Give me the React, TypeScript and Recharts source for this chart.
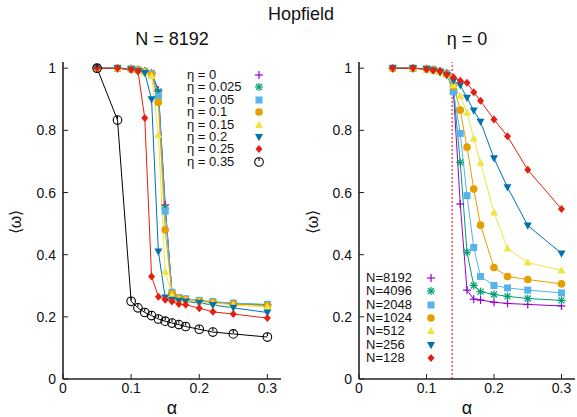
import React from "react";
import { LineChart, Line, XAxis, YAxis, ReferenceLine } from "recharts";

const alphas = [0.05, 0.08, 0.1, 0.11, 0.12, 0.13, 0.14, 0.15, 0.16, 0.17, 0.18, 0.2, 0.22, 0.25, 0.3];
const xTicks = [0, 0.1, 0.2, 0.3];
const yTicks = [0, 0.2, 0.4, 0.6, 0.8, 1];

const etaLabels = ["η = 0", "η = 0.025", "η = 0.05", "η = 0.1", "η = 0.15", "η = 0.2", "η = 0.25", "η = 0.35"];
const eta0 = [1, 1, 0.998, 0.995, 0.99, 0.985, 0.93, 0.56, 0.275, 0.26, 0.256, 0.251, 0.247, 0.242, 0.238];
const eta025 = [1, 1, 0.998, 0.995, 0.99, 0.984, 0.925, 0.55, 0.277, 0.26, 0.257, 0.252, 0.248, 0.243, 0.239];
const eta05 = [1, 1, 0.998, 0.995, 0.99, 0.983, 0.91, 0.54, 0.279, 0.262, 0.258, 0.253, 0.249, 0.244, 0.24];
const eta10 = [1, 1, 0.997, 0.994, 0.988, 0.98, 0.89, 0.48, 0.275, 0.26, 0.256, 0.251, 0.246, 0.241, 0.236];
const eta15 = [1, 1, 0.997, 0.993, 0.987, 0.975, 0.785, 0.345, 0.27, 0.258, 0.254, 0.249, 0.244, 0.238, 0.232];
const eta20 = [1, 1, 0.996, 0.99, 0.985, 0.9, 0.41, 0.262, 0.255, 0.252, 0.249, 0.245, 0.238, 0.229, 0.214];
const eta25 = [1, 1, 0.995, 0.99, 0.84, 0.33, 0.265, 0.255, 0.249, 0.241, 0.239, 0.228, 0.216, 0.209, 0.196];
const eta35 = [1, 0.833, 0.25, 0.229, 0.214, 0.204, 0.193, 0.186, 0.18, 0.175, 0.169, 0.16, 0.151, 0.145, 0.135];
const etaValues = [eta0, eta025, eta05, eta10, eta15, eta20, eta25, eta35];

const sizeLabels = ["N=8192", "N=4096", "N=2048", "N=1024", "N=512", "N=256", "N=128"];
const n8192 = [1, 1, 0.998, 0.995, 0.99, 0.985, 0.92, 0.563, 0.286, 0.257, 0.254, 0.247, 0.243, 0.24, 0.235];
const n4096 = [1, 1, 0.998, 0.995, 0.99, 0.984, 0.93, 0.697, 0.408, 0.301, 0.281, 0.272, 0.266, 0.259, 0.253];
const n2048 = [1, 1, 0.998, 0.995, 0.99, 0.983, 0.924, 0.79, 0.59, 0.423, 0.33, 0.301, 0.293, 0.286, 0.277];
const n1024 = [1, 1, 0.998, 0.994, 0.989, 0.98, 0.942, 0.865, 0.746, 0.611, 0.495, 0.359, 0.33, 0.32, 0.306];
const n512 = [1, 1, 0.997, 0.994, 0.988, 0.978, 0.945, 0.911, 0.857, 0.774, 0.696, 0.536, 0.42, 0.375, 0.349];
const n256 = [1, 1, 0.997, 0.993, 0.987, 0.977, 0.96, 0.945, 0.905, 0.864, 0.828, 0.71, 0.617, 0.494, 0.404];
const n128 = [1, 1, 0.996, 0.993, 0.99, 0.98, 0.971, 0.96, 0.953, 0.923, 0.895, 0.835, 0.781, 0.673, 0.547];
const sizeValues = [n8192, n4096, n2048, n1024, n512, n256, n128];

const alphaC = 0.138;

const colors = ["#9400d3", "#009e73", "#56b4e9", "#e69f00", "#f0e442", "#0072b2", "#e51e10", "#000000"];
const shapes = ["plus", "star", "square", "circle", "triUp", "triDown", "diamond", "open"];

const FONT = "'Liberation Sans', Arial, sans-serif";

function Marker({ cx, cy, shape, color }: { cx: number; cy: number; shape: string; color: string }) {
  if (cx == null || cy == null) return null;
  switch (shape) {
    case "plus":
      return (
        <g stroke={color} strokeWidth={1.2}>
          <line x1={cx - 4} y1={cy} x2={cx + 4} y2={cy} />
          <line x1={cx} y1={cy - 4} x2={cx} y2={cy + 4} />
        </g>
      );
    case "star":
      return (
        <g stroke={color} strokeWidth={1.2}>
          <line x1={cx - 4} y1={cy} x2={cx + 4} y2={cy} />
          <line x1={cx} y1={cy - 4} x2={cx} y2={cy + 4} />
          <line x1={cx - 3} y1={cy - 3} x2={cx + 3} y2={cy + 3} />
          <line x1={cx - 3} y1={cy + 3} x2={cx + 3} y2={cy - 3} />
        </g>
      );
    case "square":
      return <rect x={cx - 3.5} y={cy - 3.5} width={7} height={7} fill={color} />;
    case "circle":
      return <circle cx={cx} cy={cy} r={3.8} fill={color} />;
    case "triUp":
      return <polygon points={`${cx},${cy - 4.2} ${cx + 4},${cy + 3} ${cx - 4},${cy + 3}`} fill={color} />;
    case "triDown":
      return <polygon points={`${cx},${cy + 4.2} ${cx + 4},${cy - 3} ${cx - 4},${cy - 3}`} fill={color} />;
    case "diamond":
      return <polygon points={`${cx},${cy - 4} ${cx + 3.5},${cy} ${cx},${cy + 4} ${cx - 3.5},${cy}`} fill={color} />;
    default:
      return (
        <g stroke={color} strokeWidth={1.1} fill="none">
          <circle cx={cx} cy={cy} r={4.3} />
          <line x1={cx} y1={cy - 4.3} x2={cx} y2={cy - 1} />
        </g>
      );
  }
}

function buildRows(series: number[][]) {
  return alphas.map((a, i) => {
    const row: Record<string, number> = { alpha: a };
    series.forEach((s, k) => {
      row["s" + k] = s[i];
    });
    return row;
  });
}

const XTick = (props: any) => {
  const { x, y, payload } = props;
  return (
    <g>
      <line x1={x} y1={y} x2={x} y2={y - 5} stroke="#222" strokeWidth={1} />
      <text x={x} y={y + 14} textAnchor="middle" fontSize={14} fontFamily={FONT} fill="#111">
        {String(payload.value)}
      </text>
    </g>
  );
};

const YTick = (props: any) => {
  const { x, y, payload } = props;
  return (
    <g>
      <line x1={x} y1={y} x2={x + 5} y2={y} stroke="#222" strokeWidth={1} />
      <text x={x - 7} y={y + 5} textAnchor="end" fontSize={14} fontFamily={FONT} fill="#111">
        {String(payload.value)}
      </text>
    </g>
  );
};

function Panel({
  series,
  labels,
  width,
  margin,
  withRef,
}: {
  series: number[][];
  labels: string[];
  width: number;
  margin: { top: number; right: number; bottom: number; left: number };
  withRef?: boolean;
}) {
  const rows = buildRows(series);
  return (
    <LineChart width={width} height={417} data={rows} margin={margin}>
      <XAxis
        xAxisId="b"
        dataKey="alpha"
        type="number"
        domain={[0, 0.32]}
        ticks={xTicks}
        tickSize={0}
        tickMargin={0}
        tickLine={false}
        height={30}
        axisLine={{ stroke: "#222", strokeWidth: 1.6 }}
        tick={<XTick />}
        allowDataOverflow
      />
      <XAxis
        xAxisId="t"
        orientation="top"
        dataKey="alpha"
        type="number"
        domain={[0, 0.32]}
        tick={false}
        tickLine={false}
        height={0}
        axisLine={{ stroke: "#222", strokeWidth: 1.3 }}
      />
      <YAxis
        yAxisId="l"
        type="number"
        domain={[0, 1.02]}
        ticks={yTicks}
        tickSize={0}
        tickMargin={0}
        tickLine={false}
        width={40}
        axisLine={{ stroke: "#222", strokeWidth: 1.6 }}
        tick={<YTick />}
        allowDataOverflow
      />
      <YAxis
        yAxisId="r"
        orientation="right"
        type="number"
        domain={[0, 1.02]}
        tick={false}
        tickLine={false}
        width={0}
        axisLine={{ stroke: "#222", strokeWidth: 1.3 }}
      />
      {withRef && (
        <ReferenceLine
          xAxisId="b"
          yAxisId="l"
          x={alphaC}
          stroke="#ff4040"
          strokeWidth={1.4}
          strokeDasharray="2 2"
        />
      )}
      {labels.map((lab, k) => (
        <Line
          key={lab}
          xAxisId="b"
          yAxisId="l"
          dataKey={"s" + k}
          name={lab}
          type="linear"
          stroke={colors[k]}
          strokeWidth={1}
          isAnimationActive={false}
          dot={(p: any) => (
            <Marker key={`${k}-${p.index}`} cx={p.cx} cy={p.cy} shape={shapes[k]} color={colors[k]} />
          )}
          activeDot={false}
        />
      ))}
    </LineChart>
  );
}

function KeyBox({
  labels,
  left,
  top,
  step,
  markerX,
}: {
  labels: string[];
  left: number;
  top: number;
  step: number;
  markerX: number;
}) {
  return (
    <>
      {labels.map((lab, k) => (
        <div
          key={lab}
          style={{
            position: "absolute",
            left,
            top: top + k * step - 6,
            height: 12,
            lineHeight: "12px",
            fontSize: 13,
            fontFamily: FONT,
            color: "#111",
            whiteSpace: "nowrap",
          }}
        >
          {lab}
          <svg
            width={12}
            height={12}
            style={{ position: "absolute", left: markerX - left - 6, top: 0 }}
          >
            <Marker cx={6} cy={6} shape={shapes[k]} color={colors[k]} />
          </svg>
        </div>
      ))}
    </>
  );
}

const textStyle: React.CSSProperties = {
  position: "absolute",
  fontFamily: FONT,
  color: "#111",
  whiteSpace: "nowrap",
  transform: "translate(-50%, -50%)",
};

export default function App() {
  return (
    <div style={{ position: "relative", width: 577, height: 417, background: "#fff", overflow: "hidden" }}>
      <style>{`body{margin:0}`}</style>
      <div style={{ position: "absolute", left: 0, top: 0 }}>
        <Panel
          series={etaValues}
          labels={etaLabels}
          width={300}
          margin={{ top: 62, right: 19, bottom: 8, left: 23 }}
        />
      </div>
      <div style={{ position: "absolute", left: 300, top: 0 }}>
        <Panel
          series={sizeValues}
          labels={sizeLabels}
          width={277}
          margin={{ top: 62, right: 2, bottom: 8, left: 19 }}
          withRef
        />
      </div>
      <div style={{ ...textStyle, left: 301, top: 14, fontSize: 18 }}>Hopfield</div>
      <div style={{ ...textStyle, left: 172, top: 39, fontSize: 18 }}>N = 8192</div>
      <div style={{ ...textStyle, left: 467, top: 39, fontSize: 18 }}>η = 0</div>
      <div style={{ ...textStyle, left: 172, top: 408, fontSize: 18 }}>α</div>
      <div style={{ ...textStyle, left: 467, top: 408, fontSize: 18 }}>α</div>
      <div style={{ ...textStyle, left: 15, top: 222, fontSize: 16, transform: "translate(-50%, -50%) rotate(-90deg)" }}>
        ⟨ω⟩
      </div>
      <div style={{ ...textStyle, left: 312, top: 222, fontSize: 16, transform: "translate(-50%, -50%) rotate(-90deg)" }}>
        ⟨ω⟩
      </div>
      <KeyBox labels={etaLabels} left={187} top={75} step={12.4} markerX={259} />
      <KeyBox labels={sizeLabels} left={366} top={278} step={13.3} markerX={431} />
    </div>
  );
}
